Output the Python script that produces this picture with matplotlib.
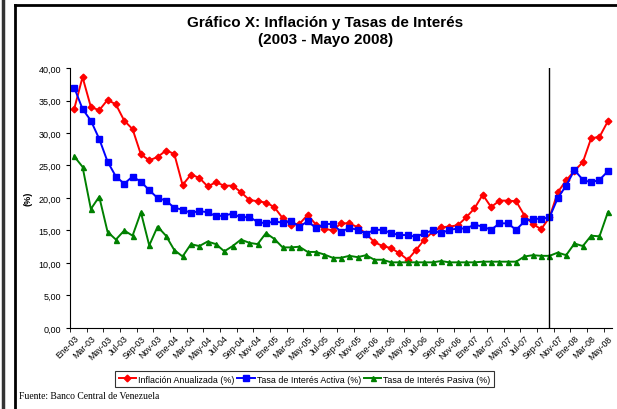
import matplotlib.pyplot as plt
from matplotlib.lines import Line2D
from matplotlib.ticker import FixedLocator, FuncFormatter

plt.rcParams["font.family"] = ["Liberation Sans", "DejaVu Sans"]

meses = ["Ene", "Feb", "Mar", "Abr", "May", "Jun", "Jul", "Ago", "Sep", "Oct", "Nov", "Dic"]
fechas = [f"{m}-{a:02d}" for a in range(3, 9) for m in meses][:65]

inflacion = [
    33.7, 38.6, 34.0, 33.5, 35.1, 34.4, 31.9, 30.6, 26.7, 25.8, 26.3, 27.3,
    26.8, 22.0, 23.6, 23.1, 21.8, 22.4, 21.9, 21.9, 20.9, 19.7, 19.5, 19.3,
    18.6, 16.9, 15.9, 16.0, 17.4, 15.9, 15.3, 15.0, 16.1, 16.1, 15.5, 14.5,
    13.2, 12.6, 12.3, 11.5, 10.5, 12.0, 13.6, 14.8, 15.5, 15.6, 15.8, 17.0,
    18.4, 20.5, 18.6, 19.6, 19.6, 19.5, 17.3, 16.0, 15.2, 17.0, 20.9, 22.7,
    24.2, 25.5, 29.2, 29.4, 31.8,
]
tasa_activa = [
    37.0, 33.7, 31.9, 29.1, 25.6, 23.3, 22.2, 23.3, 22.5, 21.2, 20.0, 19.6,
    18.5, 18.2, 17.7, 18.0, 17.8, 17.2, 17.3, 17.6, 17.0, 17.1, 16.3, 16.1,
    16.4, 16.2, 16.5, 15.6, 16.4, 15.4, 16.0, 16.0, 14.8, 15.4, 15.1, 14.5,
    15.1, 15.1, 14.6, 14.3, 14.3, 14.0, 14.6, 15.0, 14.6, 15.1, 15.3, 15.3,
    15.9, 15.6, 15.1, 16.1, 16.1, 15.1, 16.4, 16.8, 16.8, 17.0, 20.0, 21.9,
    24.3, 22.8, 22.4, 22.8, 24.1,
]
tasa_pasiva = [
    26.4, 24.8, 18.3, 20.2, 14.8, 13.6, 15.0, 14.2, 17.8, 12.7, 15.6, 14.2,
    12.0, 11.0, 12.9, 12.6, 13.3, 12.9, 11.8, 12.6, 13.6, 13.1, 12.9, 14.6,
    13.7, 12.4, 12.4, 12.5, 11.7, 11.7, 11.3, 10.8, 10.8, 11.1, 10.9, 11.2,
    10.5, 10.5, 10.1, 10.1, 10.1, 10.1, 10.1, 10.1, 10.3, 10.1, 10.1, 10.1,
    10.1, 10.2, 10.2, 10.2, 10.2, 10.2, 11.0, 11.2, 11.1, 11.1, 11.6, 11.2,
    13.0, 12.6, 14.2, 14.1, 17.8,
]
corte = "Oct-07"

fig = plt.figure(figsize=(6.17, 4.10), dpi=100)
ax = fig.add_axes([0.1135, 0.1976, 0.8784, 0.6341])

x = list(range(len(fechas)))
ax.plot(x, inflacion, color="#FF0000", lw=1.4, marker="D", ms=3.4, label="Inflación Anualizada (%)")
ax.plot(x, tasa_activa, color="#0000FF", lw=1.4, marker="s", ms=4.8, label="Tasa de Interés Activa (%)")
ax.plot(x, tasa_pasiva, color="#008000", lw=1.4, marker="^", ms=3.6, label="Tasa de Interés Pasiva (%)")
ax.axvline(fechas.index(corte), color="black", lw=1)

ax.set_xlim(-0.5, len(fechas) - 0.5)
ax.set_ylim(0, 40)
ax.set_yticks(range(0, 41, 5))
ax.yaxis.set_major_formatter(FuncFormatter(lambda v, p: f"{v:.2f}".replace(".", ",")))
ax.set_xticks(x[::2])
ax.set_xticklabels(fechas[::2], rotation=45, ha="right", rotation_mode="anchor", fontsize=6.3)
ax.xaxis.set_minor_locator(FixedLocator([i - 0.5 for i in range(0, len(fechas) + 1, 2)]))
ax.tick_params(axis="x", which="major", length=0, pad=4)
ax.tick_params(axis="x", which="minor", length=3, direction="out")
ax.tick_params(axis="y", labelsize=6.5, length=3, direction="out")
for s in ["top", "right"]:
    ax.spines[s].set_visible(False)
ax.set_ylabel("(%)", fontsize=6.5, fontweight="bold", labelpad=4)

fig.suptitle("Gráfico X: Inflación y Tasas de Interés\n(2003 - Mayo 2008)", x=0.527, y=0.961,
             fontsize=11, fontweight="bold", linespacing=1.25)

leg = fig.legend(loc="center", bbox_to_anchor=(0.4935, 0.073), ncol=3, fontsize=6.4,
                 frameon=True, fancybox=False, edgecolor="black", handlelength=2.0,
                 handletextpad=0.2, columnspacing=0.3, borderpad=0.35, borderaxespad=0)
leg.get_frame().set_linewidth(0.8)

fig.text(0.03, 0.032, "Fuente: Banco Central de Venezuela", fontsize=6.9,
         family="Liberation Serif", va="center")

# marco del gráfico
fig.add_artist(Line2D([0.025, 0.025], [0, 0.986], color="black", lw=2))
fig.add_artist(Line2D([0.025, 1], [0.986, 0.986], color="black", lw=2))
fig.add_artist(Line2D([0.005, 0.005], [0, 1], color="#333333", lw=2.5))

fig.savefig("out.png", dpi=100)
